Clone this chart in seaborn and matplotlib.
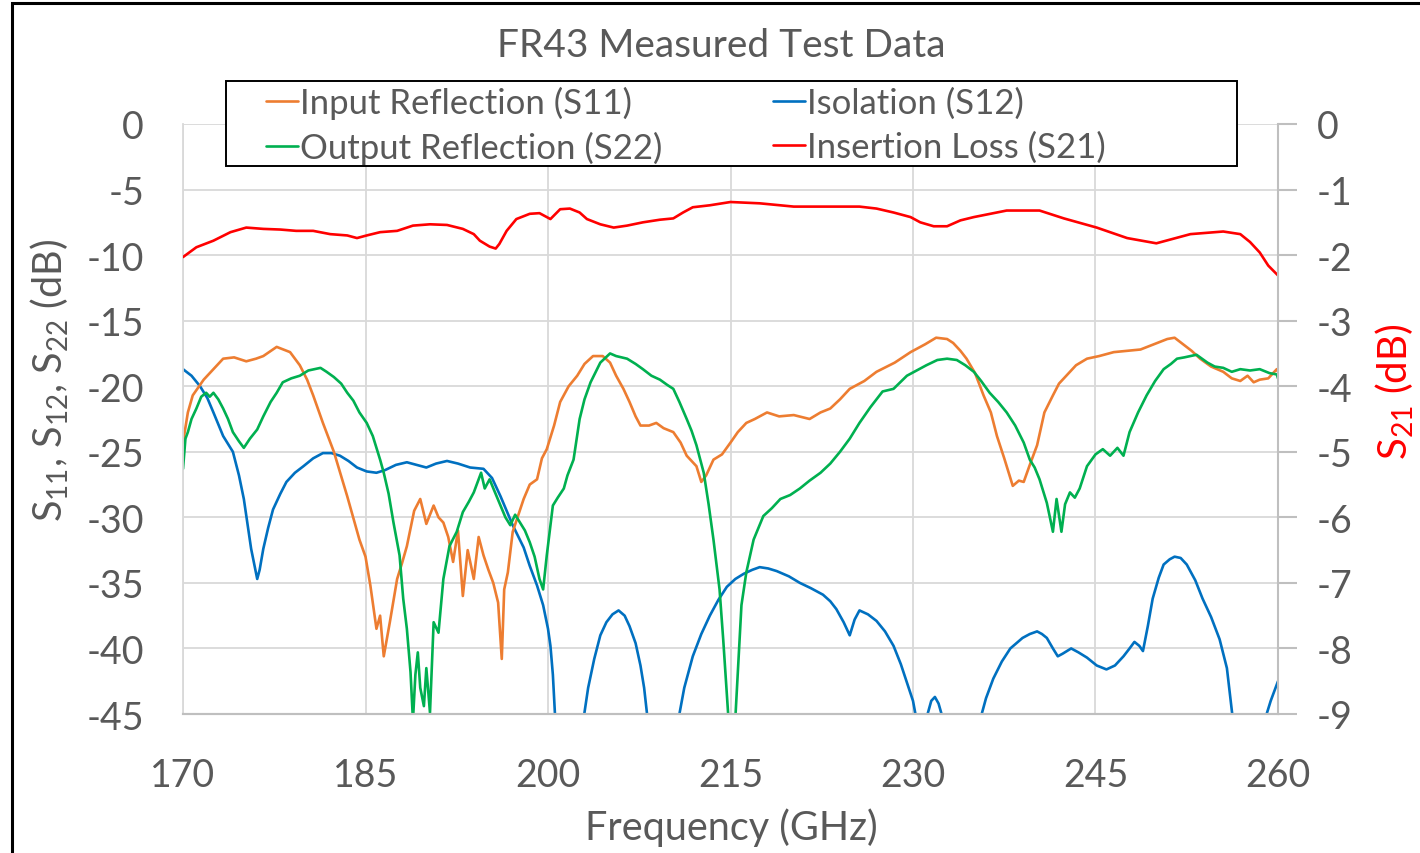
import matplotlib
matplotlib.use("Agg")
import matplotlib.pyplot as plt
from matplotlib.lines import Line2D
from matplotlib.patches import Rectangle
import seaborn as sns
import pandas as pd

# ---------------- data ----------------
title = "FR43 Measured Test Data"
x_ticks = [170, 185, 200, 215, 230, 245, 260]
left_ticks = [0, -5, -10, -15, -20, -25, -30, -35, -40, -45]
right_ticks = [0, -1, -2, -3, -4, -5, -6, -7, -8, -9]

s21_f = [170.0, 171.1, 172.5, 173.9, 175.2, 176.6, 178.0, 179.3, 180.7, 182.1, 183.5, 184.3,
         185.1, 186.2, 187.6, 188.9, 190.3, 191.7, 193.0, 193.9, 194.4, 195.2, 195.7, 196.0,
         196.6, 197.4, 198.5, 199.3, 200.2, 201.0, 201.8, 202.6, 203.2, 204.3, 205.4, 206.5,
         207.8, 209.2, 210.3, 211.1, 211.9, 213.3, 215.0, 217.4, 220.2, 222.9, 225.6, 227.0,
         228.4, 229.8, 230.6, 231.7, 232.8, 233.9, 235.0, 237.7, 240.4, 242.4, 245.1, 247.6,
         250.0, 251.4, 252.8, 255.5, 256.9, 257.7, 258.5, 259.2, 260.0]
s21_v = [-2.03, -1.88, -1.78, -1.65, -1.58, -1.60, -1.61, -1.63, -1.63, -1.68, -1.70, -1.74,
         -1.70, -1.65, -1.63, -1.55, -1.53, -1.54, -1.60, -1.68, -1.78, -1.87, -1.90, -1.83,
         -1.63, -1.45, -1.37, -1.36, -1.45, -1.30, -1.29, -1.35, -1.45, -1.53, -1.58, -1.55,
         -1.50, -1.46, -1.44, -1.35, -1.27, -1.24, -1.19, -1.21, -1.26, -1.26, -1.26, -1.29,
         -1.35, -1.42, -1.50, -1.56, -1.56, -1.47, -1.42, -1.32, -1.32, -1.44, -1.58, -1.74,
         -1.82, -1.75, -1.68, -1.64, -1.68, -1.80, -1.96, -2.16, -2.31]

s11_f = [170.0, 170.4, 170.8, 171.7, 172.5, 173.3, 174.2, 175.2, 176.0, 176.6, 177.7, 178.8,
         179.6, 180.2, 180.7, 181.5, 182.4, 183.5, 184.5, 185.0, 185.4, 185.9, 186.2, 186.5,
         187.0, 187.6, 188.0, 188.4, 189.0, 189.5, 190.0, 190.6, 191.0, 191.4, 191.8, 192.2,
         192.6, 193.0, 193.4, 193.9, 194.3, 194.7, 195.1, 195.5, 195.9, 196.2, 196.4, 196.7,
         197.1, 197.5, 198.0, 198.5, 199.1, 199.5, 199.9, 200.5, 201.0, 201.7, 202.4, 203.0,
         203.7, 204.5, 205.1, 205.6, 206.2, 206.7, 207.2, 207.6, 208.3, 208.9, 209.5, 210.3,
         210.9, 211.4, 212.2, 212.6, 213.0, 213.6, 214.3, 215.0, 215.6, 216.3, 217.0, 218.0,
         219.0, 220.2, 221.5, 222.4, 223.2, 224.0, 224.8, 226.0, 227.0, 228.5, 229.8, 231.0,
         231.9, 232.8, 233.3, 233.9, 234.4, 235.1, 235.8, 236.4, 236.9, 237.5, 238.2, 238.7,
         239.1, 239.6, 240.2, 240.8, 241.5, 242.0, 242.6, 243.4, 244.3, 245.3, 246.5, 247.6,
         248.7, 249.8, 250.9, 251.5, 252.2, 252.9, 253.6, 254.5, 255.5, 256.2, 256.9, 257.5,
         258.0, 258.5, 259.2, 259.9, 260.0]
s11_v = [-24.3, -22.0, -20.7, -19.5, -18.7, -17.9, -17.8, -18.1, -17.9, -17.7, -17.0, -17.4,
         -18.4, -19.5, -20.7, -22.8, -25.0, -28.4, -31.7, -33.0, -35.2, -38.5, -37.5, -40.6,
         -38.0, -34.7, -33.5, -32.2, -29.5, -28.6, -30.5, -29.1, -30.0, -30.4, -31.5, -33.4,
         -31.0, -36.0, -32.5, -34.7, -31.5, -32.9, -34.0, -35.0, -36.5, -40.8, -35.5, -34.2,
         -31.1, -30.0, -28.6, -27.5, -27.1, -25.5, -24.8, -23.0, -21.2, -20.0, -19.2, -18.3,
         -17.7, -17.7, -18.2, -19.2, -20.2, -21.2, -22.3, -23.0, -23.0, -22.8, -23.2, -23.5,
         -24.3, -25.3, -26.1, -27.3, -26.8, -25.6, -25.2, -24.3, -23.5, -22.8, -22.5, -22.0,
         -22.3, -22.2, -22.5, -22.0, -21.7, -21.0, -20.2, -19.6, -18.9, -18.2, -17.4, -16.8,
         -16.3, -16.4, -16.7, -17.3, -17.9, -19.0, -20.7, -22.0, -23.8, -25.5, -27.6, -27.2,
         -27.3, -26.0, -24.5, -22.0, -20.7, -19.8, -19.2, -18.4, -17.9, -17.7, -17.4, -17.3,
         -17.2, -16.8, -16.4, -16.3, -16.8, -17.3, -17.9, -18.5, -18.9, -19.4, -19.6, -19.2,
         -19.7, -19.5, -19.4, -18.7, -18.9]

s22_f = [170.0, 170.2, 170.4, 170.7, 171.1, 171.5, 171.9, 172.2, 172.5, 172.9, 173.3, 173.7,
         174.1, 174.6, 175.0, 175.5, 176.1, 176.6, 177.2, 177.7, 178.2, 178.9, 179.6, 180.3,
         181.3, 181.8, 182.4, 183.0, 183.5, 184.0, 184.5, 185.1, 185.6, 186.2, 186.5, 186.9,
         187.3, 187.8, 188.1, 188.4, 188.7, 188.9, 189.1, 189.3, 189.5, 189.8, 190.0, 190.3,
         190.6, 191.0, 191.4, 191.9, 192.5, 193.0, 193.5, 193.9, 194.5, 194.8, 195.2, 195.6,
         196.1, 196.5, 196.9, 197.3, 197.7, 198.1, 198.5, 198.9, 199.3, 199.6, 199.9, 200.4,
         200.8, 201.3, 201.6, 202.1, 202.6, 203.0, 203.5, 204.3, 205.1, 205.6, 206.5, 207.2,
         207.8, 208.5, 209.2, 209.8, 210.3, 210.8, 211.4, 211.8, 212.2, 212.8, 213.2, 213.6,
         214.1, 214.4, 214.8, 215.0, 215.3, 215.6, 215.9, 216.3, 216.9, 217.3, 217.7, 218.4,
         219.1, 219.9, 220.7, 221.5, 222.4, 223.2, 224.0, 224.8, 225.6, 226.5, 227.5, 228.4,
         229.5, 230.3, 231.1, 232.0, 232.8, 233.6, 234.3, 235.0, 235.6, 236.3, 237.0, 237.7,
         238.4, 239.1, 239.6, 240.0, 240.4, 241.0, 241.5, 241.8, 242.2, 242.5, 242.9, 243.3,
         243.7, 244.3, 245.0, 245.6, 246.2, 246.8, 247.3, 247.8, 248.5, 249.2, 249.9, 250.6,
         251.2, 251.7, 252.3, 252.8, 253.3, 254.2, 254.8, 255.5, 256.2, 256.9, 257.7, 258.5,
         259.3, 259.9, 260.0]
s22_v = [-26.3, -24.0, -23.5, -22.5, -21.7, -20.8, -20.5, -20.8, -20.5, -21.0, -21.7, -22.5,
         -23.5, -24.2, -24.7, -24.0, -23.3, -22.3, -21.2, -20.5, -19.7, -19.4, -19.2, -18.8,
         -18.6, -18.9, -19.3, -19.8, -20.5, -21.1, -22.0, -22.8, -23.8, -25.6, -26.6, -28.2,
         -30.4, -32.9, -36.2, -38.5, -41.8, -45.5, -42.0, -40.3, -43.0, -44.4, -41.5, -44.9,
         -38.0, -38.8, -34.7, -32.2, -31.1, -29.6, -28.8, -28.1, -26.6, -27.8, -27.1, -28.0,
         -29.1, -30.0, -30.6, -29.8, -30.4, -31.0, -31.9, -33.0, -34.7, -35.5, -32.9, -29.1,
         -28.5, -27.8, -26.8, -25.6, -22.5, -21.0, -19.7, -18.2, -17.5, -17.7, -17.9, -18.3,
         -18.7, -19.2, -19.5, -19.9, -20.2, -21.2, -22.5, -23.4, -24.5, -26.6, -29.0, -31.7,
         -35.5, -39.3, -44.9, -47.0, -47.0, -41.8, -36.7, -34.2, -31.7, -30.8, -29.9, -29.3,
         -28.6, -28.3, -27.8, -27.2, -26.6, -25.9, -25.0, -24.0, -22.8, -21.6, -20.4, -20.2,
         -19.2, -18.8, -18.4, -18.0, -17.9, -18.0, -18.4, -18.9, -19.6, -20.5, -21.2, -22.0,
         -23.0, -24.3, -25.6, -26.2, -27.1, -28.9, -31.1, -28.6, -31.1, -29.0, -28.1, -28.5,
         -27.8, -26.1, -25.2, -24.8, -25.3, -24.7, -25.3, -23.5, -22.0, -20.7, -19.6, -18.7,
         -18.3, -17.9, -17.8, -17.7, -17.6, -18.2, -18.5, -18.6, -18.9, -18.7, -18.8, -18.7,
         -19.0, -19.1, -19.4]

s12_f = [170.0, 170.7, 171.4, 172.0, 172.5, 173.3, 174.1, 174.6, 175.0, 175.3, 175.6, 175.9,
         176.1, 176.3, 176.6, 177.0, 177.4, 178.0, 178.5, 179.2, 179.9, 180.7, 181.5, 182.2,
         182.9, 183.6, 184.3, 185.1, 185.9, 186.6, 187.5, 188.4, 189.2, 190.0, 190.8, 191.7,
         192.6, 193.6, 194.7, 195.4, 196.1, 197.1, 198.0, 198.5, 199.1, 199.6, 200.0, 200.2,
         200.4, 200.6, 201.0, 202.5, 202.9, 203.3, 203.8, 204.3, 204.8, 205.3, 205.8, 206.3,
         206.7, 207.2, 207.6, 207.9, 208.2, 208.6, 210.4, 210.7, 211.2, 211.9, 212.6, 213.3,
         214.0, 214.7, 215.4, 216.1, 216.8, 217.4, 218.1, 218.8, 219.8, 220.7, 221.6, 222.6,
         223.2, 223.7, 224.3, 224.8, 225.2, 225.6, 226.3, 227.0, 227.7, 228.4, 229.0, 229.5,
         230.0, 230.3, 230.6, 231.0, 231.2, 231.5, 231.8, 232.1, 232.5, 232.8, 235.3, 235.5,
         236.0, 236.6, 237.3, 238.0, 239.0, 239.6, 240.2, 240.6, 241.0, 241.5, 241.9, 242.3,
         243.0, 243.6, 244.3, 245.1, 245.9, 246.6, 247.3, 247.8, 248.2, 248.6, 248.9, 249.3,
         249.7, 250.2, 250.6, 251.1, 251.5, 252.0, 252.5, 253.2, 253.8, 254.5, 255.2, 255.8,
         256.3, 256.6, 258.7, 258.9, 259.4, 260.0]
s12_v = [-18.7, -19.2, -20.0, -20.9, -22.0, -23.8, -25.0, -26.8, -28.6, -30.5, -32.4, -33.8,
         -34.7, -34.0, -32.4, -30.8, -29.4, -28.2, -27.3, -26.6, -26.1, -25.5, -25.1, -25.1,
         -25.3, -25.7, -26.2, -26.5, -26.6, -26.4, -26.0, -25.8, -26.0, -26.2, -25.9, -25.7,
         -25.9, -26.2, -26.3, -27.0, -28.4, -30.6, -32.3, -33.7, -35.2, -36.7, -38.5, -39.8,
         -42.0, -45.5, -55.0, -55.0, -45.5, -43.0, -40.8, -39.0, -38.0, -37.4, -37.1, -37.5,
         -38.3, -39.6, -41.3, -43.0, -45.5, -55.0, -55.0, -45.5, -43.0, -40.6, -38.9, -37.5,
         -36.3, -35.3, -34.7, -34.3, -34.0, -33.8, -33.9, -34.1, -34.5, -35.0, -35.4, -35.9,
         -36.4, -37.0, -38.0, -39.0, -37.8, -37.1, -37.4, -37.9, -38.7, -39.8, -41.2, -42.6,
         -44.0, -45.5, -55.0, -55.0, -45.0, -44.0, -43.7, -44.2, -45.5, -55.0, -55.0, -45.5,
         -43.8, -42.3, -41.0, -40.0, -39.2, -38.9, -38.7, -38.9, -39.2, -40.0, -40.6, -40.4,
         -40.0, -40.3, -40.7, -41.3, -41.6, -41.3, -40.6, -40.0, -39.5, -39.8, -40.2, -38.3,
         -36.2, -34.6, -33.6, -33.2, -33.0, -33.1, -33.6, -34.8, -36.2, -37.6, -39.3, -41.5,
         -45.5, -55.0, -55.0, -45.5, -44.0, -42.5]

labels = ["Input Reflection (S11)", "Output Reflection (S22)",
          "Isolation (S12)", "Insertion Loss (S21)"]
colors = {"S11": "#ED7D31", "S22": "#00B050", "S12": "#0070C0", "S21": "#FF0000"}

# ---------------- style ----------------
sns.set_theme(style="white")
FONT = ["Lato", "DejaVu Sans"]
plt.rcParams["font.family"] = FONT
plt.rcParams["mathtext.fontset"] = "custom"
plt.rcParams["mathtext.rm"] = "Lato"
plt.rcParams["mathtext.it"] = "Lato"
TXT = "#595959"
GRID = "#d9d9d9"

W, H = 1420, 854
fig = plt.figure(figsize=(W / 100, H / 100), dpi=100)
fig.patch.set_facecolor("white")

def fx(px):
    return px / W

def fy(py):
    return 1 - py / H

ax = fig.add_axes([fx(183), fy(715), fx(1278) - fx(183), fy(125) - fy(715)])
ax2 = ax.twinx()

lw = 1.9
df11 = pd.DataFrame({"f": s11_f, "v": s11_v})
df22 = pd.DataFrame({"f": s22_f, "v": s22_v})
df12 = pd.DataFrame({"f": s12_f, "v": s12_v})
df21 = pd.DataFrame({"f": s21_f, "v": s21_v})

sns.lineplot(data=df12, x="f", y="v", ax=ax, color=colors["S12"], lw=lw, estimator=None, sort=False)
sns.lineplot(data=df11, x="f", y="v", ax=ax, color=colors["S11"], lw=lw, estimator=None, sort=False)
sns.lineplot(data=df22, x="f", y="v", ax=ax, color=colors["S22"], lw=lw, estimator=None, sort=False)
sns.lineplot(data=df21, x="f", y="v", ax=ax2, color=colors["S21"], lw=lw, estimator=None, sort=False)

ax.set_xlim(170, 260)
ax.set_ylim(-45, 0)
ax2.set_ylim(-9, 0)
ax.set_xticks(x_ticks)
ax.set_yticks(left_ticks)
ax2.set_yticks(right_ticks)
ax.set_xticklabels([str(t) for t in x_ticks])
ax.set_yticklabels([str(t) for t in left_ticks])
ax2.set_yticklabels([str(t) for t in right_ticks])

ax.grid(True, color=GRID, lw=1.3)
ax2.grid(False)
ax.set_axisbelow(True)
for a in (ax, ax2):
    a.set_xlabel("")
    a.set_ylabel("")
    a.spines["top"].set_visible(False)
    a.spines["left"].set_color(GRID)
    a.spines["left"].set_linewidth(1.3)
    a.spines["bottom"].set_color("#bfbfbf")
    a.spines["bottom"].set_linewidth(1.5)
    a.spines["right"].set_color("#bfbfbf")
    a.spines["right"].set_linewidth(1.5)
ax.spines["right"].set_visible(False)
ax2.spines["left"].set_visible(False)

TS = 27
ax.tick_params(axis="x", length=0, pad=31, labelsize=TS, labelcolor=TXT)
ax.tick_params(axis="y", length=0, pad=28, labelsize=TS, labelcolor=TXT)
ax2.tick_params(axis="y", right=True, direction="out", length=14, width=1.5,
                color="#bfbfbf", pad=14, labelsize=TS, labelcolor=TXT)

# titles / labels
fig.text(fx(721), fy(46), title, ha="center", va="center", fontsize=28, color=TXT)
fig.text(fx(731), fy(828), "Frequency (GHz)", ha="center", va="center", fontsize=28.5, color=TXT)
fig.text(fx(50), fy(381), r"S$_{11}$, S$_{12}$, S$_{22}$ (dB)", rotation=90,
         ha="center", va="center", fontsize=28.5, color=TXT)
fig.text(fx(1395), fy(392), r"S$_{21}$ (dB)", rotation=90,
         ha="center", va="center", fontsize=29, color="#FF0000")

# legend
LFS = 25
handles = [Line2D([], [], color=colors[k], lw=lw) for k in ("S11", "S22", "S12", "S21")]
leg = fig.legend(handles, labels, ncol=2, loc="upper left",
                 bbox_to_anchor=(fx(266), fy(87)), frameon=False,
                 fontsize=LFS, handlelength=0.92, handletextpad=0.05,
                 columnspacing=3.2, labelspacing=0.34, borderaxespad=0, borderpad=0)
for t in leg.get_texts():
    t.set_color(TXT)
fig.add_artist(Rectangle((fx(226), fy(167)), fx(1237) - fx(226), fy(82) - fy(167),
                         transform=fig.transFigure, fill=True, facecolor="white",
                         edgecolor="black", lw=1.4, zorder=2))
leg.set_zorder(3)

# outer frame
fig.add_artist(Rectangle((fx(12), fy(858)), 1.02, fy(4) - fy(858),
                         transform=fig.transFigure, fill=False, edgecolor="black", lw=2.2))

fig.savefig("out.png", dpi=100)
